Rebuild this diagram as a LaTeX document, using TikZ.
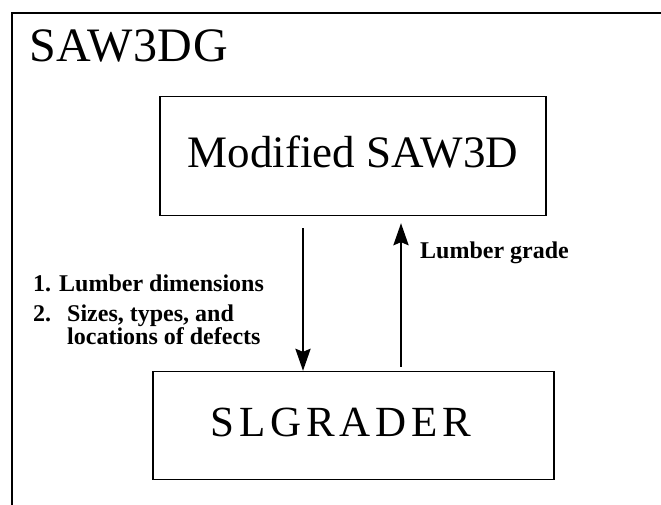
\documentclass[tikz,border=0pt]{standalone}
\usepackage{fontspec}
\setmainfont{Liberation Serif}
\usetikzlibrary{arrows.meta,calc}
\begin{document}
\begin{tikzpicture}[x=1pt,y=-1pt,
  frameline/.style={line width=1.1pt},
  boxstyle/.style={draw,line width=1.3pt,inner sep=0pt},
  bigtext/.style={anchor=base,inner sep=0pt,font=\fontsize{45}{45}\selectfont},
  lab/.style={anchor=base west,inner sep=0pt,font=\fontsize{24}{24}\selectfont\bfseries},
  arr/.style={line width=2.8pt,-{Stealth[length=22pt,width=15pt,inset=3pt]}}
]
\useasboundingbox (0,0) rectangle (661,505);
% outer frame
\coordinate (fa) at (12,505);
\coordinate (fb) at (12,13);
\coordinate (fc) at (661,13);
\draw[frameline] (fa) -- (fb) -- (fc);
% title
\node[anchor=base west,inner sep=0pt,font=\fontsize{48}{48}\selectfont\addfontfeatures{LetterSpace=1}] (title) at (29,62) {SAW3DG};
% boxes
\node[boxstyle,minimum width=386pt,minimum height=119pt] (top) at (353,156) {};
\node[bigtext] (toptext) at (353,168) {Modified SAW3D};
\node[boxstyle,minimum width=401pt,minimum height=108pt] (bot) at (353.5,425.5) {};
\node[bigtext,font=\fontsize{43}{43}\selectfont\addfontfeatures{LetterSpace=11}] (bottext) at (341,436) {SLGRADER};
% arrows
\coordinate (dx) at (303,0);
\coordinate (ux) at (401,0);
\draw[arr] ($(top.south -| dx)+(0,12)$) -- (bot.north -| dx);
\draw[arr] ($(bot.north -| ux)+(0,-4)$) -- ($(top.south -| ux)+(0,7)$);
% labels
\node[lab] (l1) at (33,291) {1. Lumber dimensions};
\node[lab] (l2) at (33,321) {\makebox[34pt][l]{2.}Sizes, types, and};
\node[lab] (l3) at (67,344) {locations of defects};
\node[lab] (l4) at (420,258) {Lumber grade};
\end{tikzpicture}
\end{document}
